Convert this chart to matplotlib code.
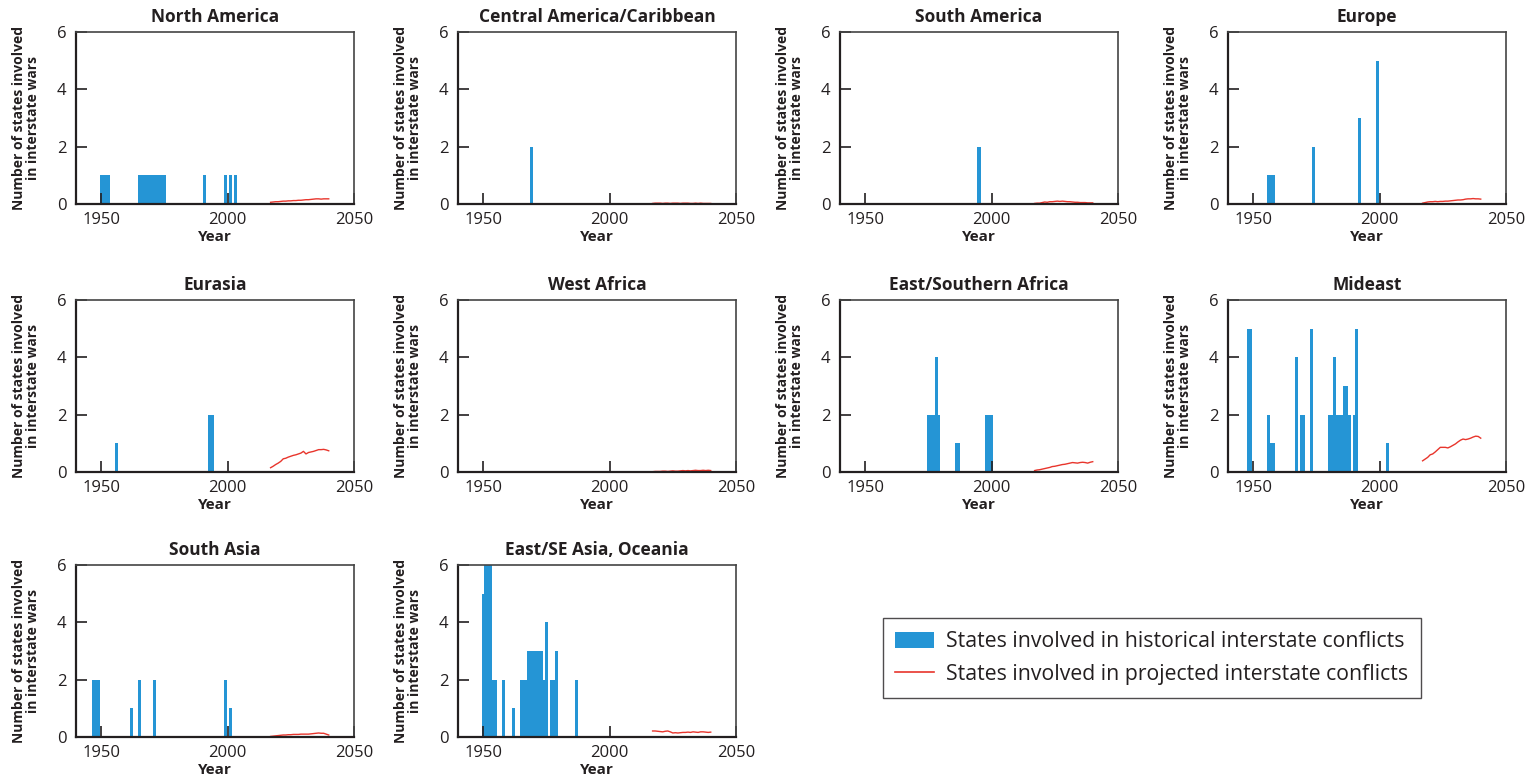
import matplotlib
matplotlib.use('Agg')
import matplotlib.pyplot as plt
from matplotlib.patches import Patch
from matplotlib.lines import Line2D

plt.rcParams['font.family'] = ['Open Sans', 'DejaVu Sans']

BLUE = '#2595d5'
RED = '#e8352c'
INK = '#231f20'

# projected series years
proj_years = list(range(2017, 2041))

# North America
na_years = [1950, 1951, 1952, 1953, 1965, 1966, 1967, 1968, 1969, 1970, 1971, 1972,
            1973, 1974, 1975, 1991, 1999, 2001, 2003]
na_counts = [1] * 19
na_proj = [0.06, 0.07, 0.08, 0.08, 0.09, 0.10, 0.10, 0.11, 0.11, 0.12, 0.12, 0.13,
           0.13, 0.14, 0.15, 0.15, 0.16, 0.17, 0.18, 0.18, 0.17, 0.18, 0.18, 0.18]

# Central America/Caribbean
ca_years = [1969]
ca_counts = [2]
ca_proj = [0.02, 0.03, 0.03, 0.03, 0.02, 0.03, 0.03, 0.02, 0.03, 0.03, 0.03, 0.02,
           0.03, 0.03, 0.03, 0.02, 0.02, 0.03, 0.02, 0.03, 0.02, 0.02, 0.02, 0.02]

# South America
sa_years = [1995]
sa_counts = [2]
sa_proj = [0.02, 0.03, 0.03, 0.05, 0.07, 0.06, 0.08, 0.08, 0.09, 0.10, 0.09, 0.10,
           0.09, 0.08, 0.08, 0.07, 0.06, 0.06, 0.05, 0.05, 0.05, 0.04, 0.04, 0.04]

# Europe
eu_years = [1956, 1957, 1958, 1974, 1992, 1999]
eu_counts = [1, 1, 1, 2, 3, 5]
eu_proj = [0.03, 0.05, 0.07, 0.08, 0.08, 0.09, 0.08, 0.09, 0.09, 0.10, 0.10, 0.11,
           0.12, 0.13, 0.14, 0.14, 0.15, 0.17, 0.18, 0.18, 0.19, 0.18, 0.18, 0.17]

# Eurasia
ea_years = [1956, 1993, 1994]
ea_counts = [1, 2, 2]
ea_proj = [0.15, 0.20, 0.26, 0.31, 0.37, 0.46, 0.48, 0.52, 0.55, 0.58, 0.60, 0.63,
           0.66, 0.72, 0.63, 0.68, 0.70, 0.72, 0.75, 0.78, 0.78, 0.79, 0.77, 0.74]

# West Africa
wa_years = []
wa_counts = []
wa_proj = [0.01, 0.02, 0.02, 0.02, 0.03, 0.03, 0.02, 0.03, 0.04, 0.03, 0.03, 0.04,
           0.05, 0.04, 0.05, 0.04, 0.05, 0.06, 0.05, 0.05, 0.06, 0.05, 0.06, 0.05]

# East/Southern Africa
es_years = [1975, 1976, 1977, 1978, 1979, 1986, 1987, 1998, 1999, 2000]
es_counts = [2, 2, 2, 4, 2, 1, 1, 2, 2, 2]
es_proj = [0.05, 0.07, 0.08, 0.10, 0.12, 0.14, 0.16, 0.19, 0.20, 0.22, 0.24, 0.26,
           0.27, 0.29, 0.31, 0.33, 0.32, 0.31, 0.33, 0.34, 0.33, 0.31, 0.34, 0.36]

# Mideast
me_years = [1948, 1949, 1956, 1957, 1958, 1967, 1969, 1970, 1973, 1980, 1981, 1982,
            1983, 1984, 1985, 1986, 1987, 1988, 1990, 1991, 2003]
me_counts = [5, 5, 2, 1, 1, 4, 2, 2, 5, 2, 2, 4, 2, 2, 2, 3, 3, 2, 2, 5, 1]
me_proj = [0.39, 0.45, 0.51, 0.60, 0.63, 0.70, 0.78, 0.86, 0.86, 0.86, 0.84, 0.88,
           0.93, 0.98, 1.05, 1.11, 1.15, 1.13, 1.15, 1.18, 1.22, 1.25, 1.24, 1.18]

# South Asia
sas_years = [1947, 1948, 1949, 1962, 1965, 1971, 1999, 2001]
sas_counts = [2, 2, 2, 1, 2, 2, 2, 1]
sas_proj = [0.02, 0.03, 0.04, 0.05, 0.06, 0.07, 0.07, 0.08, 0.08, 0.09, 0.09, 0.09,
            0.10, 0.10, 0.10, 0.10, 0.11, 0.12, 0.13, 0.14, 0.13, 0.13, 0.10, 0.07]

# East/SE Asia, Oceania
se_years = [1950, 1951, 1952, 1953, 1954, 1955, 1958, 1962, 1965, 1966, 1967, 1968,
            1969, 1970, 1971, 1972, 1973, 1974, 1975, 1977, 1978, 1979, 1987]
se_counts = [5, 6, 6, 6, 2, 2, 2, 1, 2, 2, 2, 3, 3, 3, 3, 3, 3, 2, 4, 2, 2, 3, 2]
se_proj = [0.21, 0.21, 0.20, 0.19, 0.18, 0.20, 0.21, 0.18, 0.14, 0.15, 0.14, 0.15,
           0.16, 0.16, 0.17, 0.16, 0.18, 0.17, 0.16, 0.18, 0.18, 0.17, 0.16, 0.17]

regions = [
    ('North America', na_years, na_counts, na_proj),
    ('Central America/Caribbean', ca_years, ca_counts, ca_proj),
    ('South America', sa_years, sa_counts, sa_proj),
    ('Europe', eu_years, eu_counts, eu_proj),
    ('Eurasia', ea_years, ea_counts, ea_proj),
    ('West Africa', wa_years, wa_counts, wa_proj),
    ('East/Southern Africa', es_years, es_counts, es_proj),
    ('Mideast', me_years, me_counts, me_proj),
    ('South Asia', sas_years, sas_counts, sas_proj),
    ('East/SE Asia, Oceania', se_years, se_counts, se_proj),
]

fig = plt.figure(figsize=(15.32, 7.83), dpi=100)
W, H = 1532.0, 783.0
col_left = [76, 458, 840, 1228]
row_bottom = [204, 472, 737]
aw, ah = 278, 172

for i, (name, yrs, cnt, proj) in enumerate(regions):
    r, c = divmod(i, 4)
    ax = fig.add_axes([col_left[c] / W, 1 - row_bottom[r] / H, aw / W, ah / H])
    if yrs:
        ax.bar(yrs, cnt, width=1.2, color=BLUE, linewidth=0)
    ax.plot(proj_years, proj, color=RED, lw=1.0)
    ax.set_xlim(1940, 2050)
    ax.set_ylim(0, 6)
    ax.set_xticks([1950, 2000, 2050])
    ax.set_yticks([0, 2, 4, 6])
    ax.tick_params(direction='in', length=8, width=1.2, color=INK,
                   labelsize=12, labelcolor=INK)
    ax.tick_params(axis='x', pad=6)
    ax.tick_params(axis='y', pad=7)
    for s in ['left', 'bottom']:
        ax.spines[s].set_linewidth(1.6)
        ax.spines[s].set_color(INK)
    for s in ['top', 'right']:
        ax.spines[s].set_linewidth(1.2)
        ax.spines[s].set_color('#444444')
    ax.set_title(name, fontweight='bold', fontsize=12.5, color=INK, pad=7)
    ax.set_xlabel('Year', fontweight='bold', fontsize=11, color=INK, labelpad=1)
    ax.set_ylabel('Number of states involved\nin interstate wars', fontweight='bold',
                  fontsize=10, color=INK, labelpad=12, linespacing=1.0)

handles = [Patch(facecolor=BLUE, edgecolor='none'),
           Line2D([0], [0], color=RED, lw=1.2)]
labels = ['States involved in historical interstate conflicts',
          'States involved in projected interstate conflicts']
leg = fig.legend(handles, labels, loc='center', bbox_to_anchor=(1152 / W, 1 - 658 / H),
                 fontsize=15.3, frameon=True, fancybox=False, edgecolor=INK,
                 handlelength=1.8, handleheight=0.8, handletextpad=0.6,
                 labelspacing=0.55, borderpad=0.6, borderaxespad=0)
leg.get_frame().set_linewidth(1.0)
for t in leg.get_texts():
    t.set_color(INK)

fig.savefig('out.png', dpi=100)
